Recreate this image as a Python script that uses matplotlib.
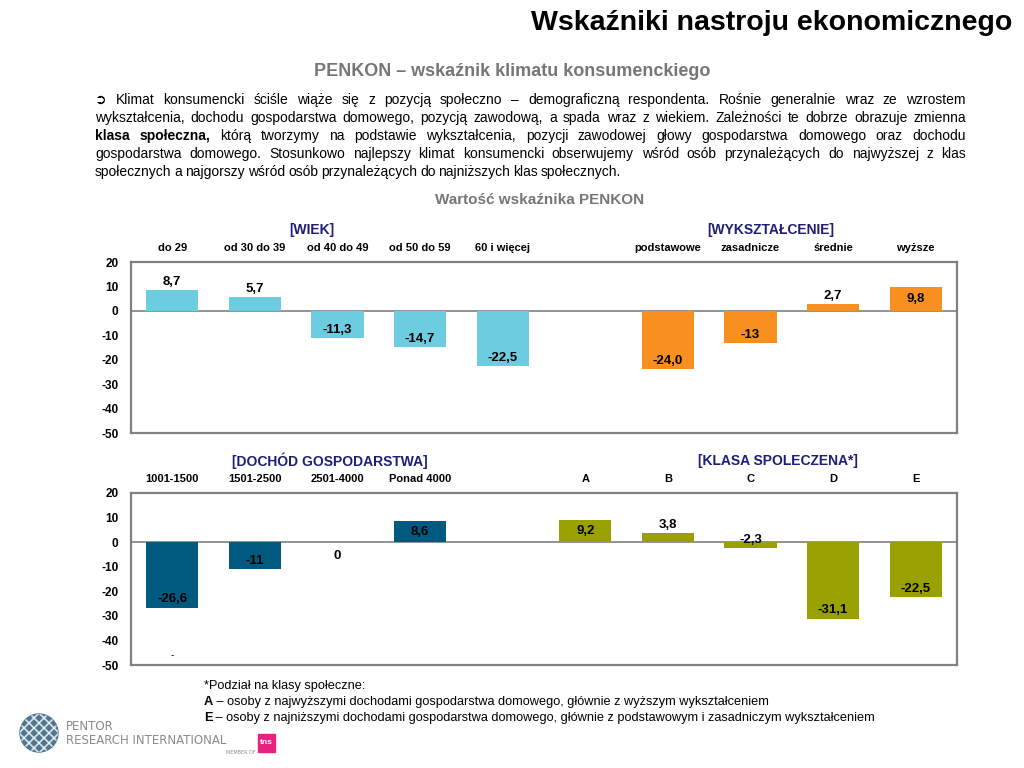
import matplotlib
matplotlib.use("Agg")
import matplotlib.pyplot as plt
import numpy as np
from matplotlib.patches import Circle, Rectangle

plt.rcParams["font.family"] = ["Liberation Sans Narrow", "Liberation Sans", "DejaVu Sans"]
plt.rcParams["axes.unicode_minus"] = False

# ---------------- dane ----------------
wiek_labels = ["do 29", "od 30 do 39", "od 40 do 49", "od 50 do 59", "60 i więcej"]
wiek_values = [8.7, 5.7, -11.3, -14.7, -22.5]
wiek_text = ["8,7", "5,7", "-11,3", "-14,7", "-22,5"]

wyksz_labels = ["podstawowe", "zasadnicze", "średnie", "wyższe"]
wyksz_values = [-24.0, -13.0, 2.7, 9.8]
wyksz_text = ["-24,0", "-13", "2,7", "9,8"]

dochod_labels = ["1001-1500", "1501-2500", "2501-4000", "Ponad 4000"]
dochod_values = [-26.6, -11.0, 0.0, 8.6]
dochod_text = ["-26,6", "-11", "0", "8,6"]

klasa_labels = ["A", "B", "C", "D", "E"]
klasa_values = [9.2, 3.8, -2.3, -31.1, -22.5]
klasa_text = ["9,2", "3,8", "-2,3", "-31,1", "-22,5"]

# etykiety wpisane do srodka slupka
inside = {"wyższe", "Ponad 4000", "A"}

W, H = 1024, 768
fig = plt.figure(figsize=(10.24, 7.68), dpi=100)
renderer = fig.canvas.get_renderer()


def fx(x):
    return x / W


def fy(y):
    return 1 - y / H


NAVY = "#1e1e78"
GRAY = "#767676"

# ---------------- naglowki ----------------
fig.text(fx(1012), fy(23), "Wskaźniki nastroju ekonomicznego", ha="right", va="center",
         fontsize=20.5, fontweight="bold", family=["Liberation Sans", "DejaVu Sans"])
fig.text(fx(512), fy(72), "PENKON – wskaźnik klimatu konsumenckiego", ha="center", va="center",
         fontsize=13, fontweight="bold", color=GRAY, family=["Liberation Sans", "DejaVu Sans"])

# ---------------- akapit (wyjustowany) ----------------
par_lines = [
    "➲ Klimat konsumencki ściśle wiąże się z pozycją społeczno – demograficzną respondenta. Rośnie generalnie wraz ze wzrostem",
    "wykształcenia, dochodu gospodarstwa domowego, pozycją zawodową, a spada wraz z wiekiem. Zależności te dobrze obrazuje zmienna",
    "*klasa *społeczna, którą tworzymy na podstawie wykształcenia, pozycji zawodowej głowy gospodarstwa domowego oraz dochodu",
    "gospodarstwa domowego. Stosunkowo najlepszy klimat konsumencki obserwujemy wśród osób przynależących do najwyższej z klas",
    "społecznych a najgorszy wśród osób przynależących do najniższych klas społecznych.",
]
PX0, PX1, PY0, PDY, PFS = 95, 966, 104, 18, 10


def put_line(line, y, justify):
    words = line.split()
    texts, widths = [], []
    for w in words:
        bold = w.startswith("*")
        t = fig.text(0, 0, w.lstrip("*"), fontsize=PFS, va="baseline",
                     fontweight="bold" if bold else "normal",
                     family=["Liberation Sans Narrow", "Liberation Sans", "DejaVu Sans"])
        texts.append(t)
        widths.append(t.get_window_extent(renderer).width)
    if justify:
        gap = (PX1 - PX0 - sum(widths)) / (len(words) - 1)
    else:
        gap = PFS * 0.3
    x = PX0
    for t, w in zip(texts, widths):
        t.set_position((fx(x), fy(y)))
        x += w + gap


for i, line in enumerate(par_lines):
    put_line(line, PY0 + i * PDY, i < len(par_lines) - 1)

fig.text(fx(540), fy(200), "Wartość wskaźnika PENKON", ha="center", va="center",
         fontsize=11, fontweight="bold", color=GRAY)


# ---------------- wykresy ----------------
def panel(top, bottom, groups):
    ax = fig.add_axes([fx(131), fy(bottom), (957 - 131) / W, (bottom - top) / H])
    ax.set_xlim(-0.5, 9.5)
    ax.set_ylim(-50, 20)
    ax.set_yticks(np.arange(-50, 21, 10))
    ax.set_xticks([])
    ax.tick_params(axis="y", length=0, pad=9, labelsize=8.5)
    for lab in ax.get_yticklabels():
        lab.set_fontweight("bold")
    for s in ax.spines.values():
        s.set_color("#808080")
        s.set_linewidth(1.6)
    ax.axhline(0, color="#808080", lw=1.2, zorder=1)
    for start, labels, values, texts, color, heading, hx in groups:
        xs = np.arange(start, start + len(values))
        ax.bar(xs, values, width=0.63, color=color, zorder=2)
        for x, lab, v, t in zip(xs, labels, values, texts):
            ax.annotate(lab, (x, 20), xytext=(0, 10), textcoords="offset points",
                        ha="center", va="center", fontsize=8, fontweight="bold")
            if lab in inside:
                ax.text(x, v / 2, t, ha="center", va="center", fontsize=9.5, fontweight="bold", zorder=3)
            elif v != 0:
                ax.annotate(t, (x, v), xytext=(0, 1.5), textcoords="offset points",
                            ha="center", va="bottom", fontsize=9.5, fontweight="bold", zorder=3)
            else:
                ax.annotate(t, (x, v), xytext=(0, -6), textcoords="offset points",
                            ha="center", va="top", fontsize=9.5, fontweight="bold", zorder=3)
        fig.text(fx(hx), fy(top - 32), heading, ha="center", va="center",
                 fontsize=10, fontweight="bold", color=NAVY)
    return ax


panel(262, 433, [
    (0, wiek_labels, wiek_values, wiek_text, "#6ccde1", "[WIEK]", 312),
    (6, wyksz_labels, wyksz_values, wyksz_text, "#f7901e", "[WYKSZTAŁCENIE]", 771),
])
ax2 = panel(493, 665, [
    (0, dochod_labels, dochod_values, dochod_text, "#005a80", "[DOCHÓD GOSPODARSTWA]", 330),
    (5, klasa_labels, klasa_values, klasa_text, "#99a100", "[KLASA SPOLECZENA*]", 778),
])
ax2.text(0, -46, "-", ha="center", va="center", fontsize=7)

# ---------------- przypis ----------------
FN = ["Liberation Sans", "DejaVu Sans"]
fig.text(fx(204), fy(686), "*Podział na klasy społeczne:", va="center", fontsize=9.2, family=FN)
for yy, letter, rest in [
    (702, "A", " – osoby z najwyższymi dochodami gospodarstwa domowego, głównie z wyższym wykształceniem"),
    (718, "E", " – osoby z najniższymi dochodami gospodarstwa domowego, głównie z podstawowym i zasadniczym wykształceniem"),
]:
    t = fig.text(fx(204), fy(yy), letter, va="center", fontsize=9.2, fontweight="bold", family=FN)
    w = t.get_window_extent(renderer).width
    fig.text(fx(204 + w), fy(yy), rest, va="center", fontsize=9.2, family=FN)

# ---------------- logo ----------------
lax = fig.add_axes([0, 0, 1, 1], zorder=-1)
lax.set_xlim(0, W)
lax.set_ylim(H, 0)
lax.axis("off")
lax.add_patch(Circle((39, 733), 19, color="#4f7690"))
for k in np.linspace(-30, 30, 7):
    lax.plot([39 + k - 20, 39 + k + 20], [713, 753], color="white", lw=1.2, alpha=0.8)
    lax.plot([39 + k + 20, 39 + k - 20], [713, 753], color="white", lw=1.2, alpha=0.8)
clip = Circle((39, 733), 19, transform=lax.transData)
for ln in lax.lines:
    ln.set_clip_path(clip)
LOGO = ["DejaVu Sans"]
lax.text(66, 727, "PENTOR", fontsize=8.5, color="#8a8a8a", va="center", family=LOGO)
lax.text(66, 740, "RESEARCH INTERNATIONAL", fontsize=8.5, color="#8a8a8a", va="center", family=LOGO)
lax.text(226, 752, "MEMBER OF", fontsize=3.5, color="#8a8a8a", va="center", family=LOGO)
lax.add_patch(Rectangle((258, 734), 17, 18, color="#e3237d"))
lax.text(266, 743, "tns", fontsize=6, color="white", fontweight="bold", ha="center", va="center")

fig.savefig("out.png", dpi=100)
